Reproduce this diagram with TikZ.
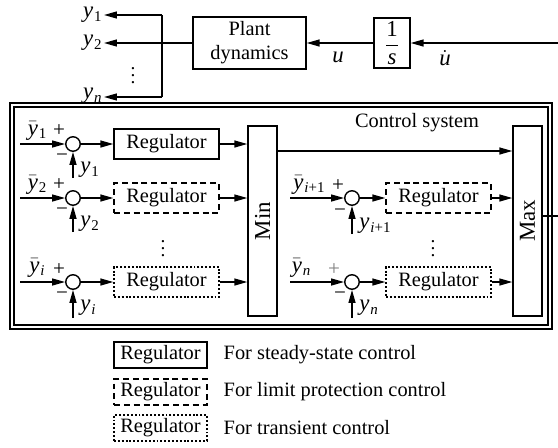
\documentclass[tikz,border=0pt]{standalone}
\usepackage{fontspec}
\setmainfont{Liberation Serif}
\usepackage{graphicx}
\usetikzlibrary{arrows.meta}
\newcommand{\vy}[1]{\textit{y}\kern0.5pt\raisebox{-0.35ex}{\fontsize{8.5}{9}\selectfont #1}}
\newcommand{\vyb}[1]{$\bar{\mbox{\textit{y}}}$\kern0.5pt\raisebox{-0.35ex}{\fontsize{8.5}{9}\selectfont #1}}
\newcommand{\ssi}{\textit{i}}
\newcommand{\ssn}{\textit{n}}
\begin{document}
\begin{tikzpicture}[x=0.02cm,y=-0.02cm,
  font=\fontsize{11.6}{13.8}\selectfont, line width=0.8pt,
  arr/.style={-{Triangle[length=2.6mm,width=1.4mm]}},
  blk/.style={draw, minimum width=2.1cm, minimum height=0.6cm, inner sep=0pt},
  regs/.style={blk},
  regd/.style={blk, dash pattern=on 3.4pt off 2.2pt},
  regt/.style={blk, dash pattern=on 1.1pt off 1.1pt},
  legs/.style={minimum width=1.86cm, minimum height=0.52cm},
  sumj/.style={draw, circle, minimum size=0.29cm, inner sep=0pt},
  lab/.style={inner sep=1pt, font=\fontsize{13}{14}\selectfont},
  sgn/.style={inner sep=0pt, font=\fontsize{12}{13}\selectfont},
  dts/.style={inner sep=0pt, font=\fontsize{11}{12}\selectfont},
  frm/.style={line width=0.6pt}]
\useasboundingbox (0,0) rectangle (558,447);

% ---------- top: plant ----------
\node[draw, minimum width=2.26cm, minimum height=1.04cm, align=center, inner sep=0pt] (plant) at (249.5,43) {Plant\\dynamics};
\node[draw, minimum width=0.72cm, minimum height=1.0cm, inner sep=0pt, font=\fontsize{13}{14}\selectfont] (integ) at (392,43) {$\displaystyle\frac{\mbox{1}}{\mbox{\textit{s}}}$};
\node[lab, anchor=east] (Y1) at (104,15) {\vy{1}};
\node[lab, anchor=east] (Y2) at (104,43) {\vy{2}};
\node[lab, anchor=east] (Yn) at (104,96) {\vy{\ssn}};
\node[dts] (tdots) at (133,70) {$\vdots$};
\coordinate (jt) at (162,15);
\coordinate (jm) at (162,43);
\coordinate (jb) at (162,97);
\draw (jt) -- (jb);
\draw[arr] (jt) -- (Y1.east |- jt);
\draw[arr] (plant.west) -- (Y2.east |- jm);
\draw[arr] (jb) -- (Yn.east |- jb);
\draw[arr] (integ.west) -- (plant.east);
\node[lab] (ulab) at (338,57) {\textit{u}};
\coordinate (fbR) at (558,43);
\draw[arr] (fbR) -- (integ.east);
\node[lab] (udlab) at (445,58) {$\dot{\mbox{\textit{u}}}$};

% ---------- control system frame ----------
\draw[frm] (10,103) rectangle (552,329);
\draw[frm] (14,107) rectangle (548,325);
\node (cslab) at (417,123) {Control system};

% Min / Max
\node[draw, minimum width=0.58cm, minimum height=3.8cm, inner sep=0pt, font=\fontsize{13}{14}\selectfont] (min) at (262.5,221) {\rotatebox{90}{Min}};
\node[draw, minimum width=0.58cm, minimum height=3.8cm, inner sep=0pt, font=\fontsize{13}{14}\selectfont] (max) at (527.5,221) {\rotatebox{90}{Max}};
\coordinate (mm) at (0,151);
\draw[arr] (min.east |- mm) -- (max.west |- mm);
\coordinate (maxOut) at (558,216);
\draw (max.east |- maxOut) -- (maxOut);

% ---------- left rows ----------
% row 1
\coordinate (in1) at (20,144);
\node[sumj] (s1) at (73,144) {};
\node[regs] (r1) at (166.5,144) {Regulator};
\coordinate (fb1) at (73,178);
\draw[arr] (in1) -- (s1.west);
\draw[arr] (s1.east) -- (r1.west);
\draw[arr] (r1.east) -- (r1.east -| min.west);
\draw[arr] (fb1) -- (s1.south);
\node[lab] (yb1) at (37,131) {\vyb{1}};
\node[sgn] (p1) at (59,131) {+};
\node[sgn] (m1) at (62,158) {−};
\node[lab, anchor=west] (yf1) at (78,170) {\vy{1}};

% row 2
\coordinate (in2) at (20,198);
\node[sumj] (s2) at (73,198) {};
\node[regd] (r2) at (166.5,198) {Regulator};
\coordinate (fb2) at (73,232);
\draw[arr] (in2) -- (s2.west);
\draw[arr] (s2.east) -- (r2.west);
\draw[arr] (r2.east) -- (r2.east -| min.west);
\draw[arr] (fb2) -- (s2.south);
\node[lab] (yb2) at (37,185) {\vyb{2}};
\node[sgn] (p2) at (59,185) {+};
\node[sgn] (m2) at (62,212) {−};
\node[lab, anchor=west] (yf2) at (78,224) {\vy{2}};

\node[dts] (ldots) at (163,243) {$\vdots$};

% row i
\coordinate (ini) at (20,282);
\node[sumj] (si) at (73,282) {};
\node[regt] (ri) at (166.5,282) {Regulator};
\coordinate (fbi) at (73,318);
\draw[arr] (ini) -- (si.west);
\draw[arr] (si.east) -- (ri.west);
\draw[arr] (ri.east) -- (ri.east -| min.west);
\draw[arr] (fbi) -- (si.south);
\node[lab] (ybi) at (37,268) {\vyb{\ssi}};
\node[sgn] (pi) at (59,270) {+};
\node[sgn] (mi) at (62,296) {−};
\node[lab, anchor=west] (yfi) at (78,308) {\vy{\ssi}};

% ---------- right rows ----------
% row i+1
\coordinate (inj) at (290,198);
\node[sumj] (sj) at (352,198) {};
\node[regd] (rj) at (438.5,198) {Regulator};
\coordinate (fbj) at (352,234);
\draw[arr] (inj) -- (sj.west);
\draw[arr] (sj.east) -- (rj.west);
\draw[arr] (rj.east) -- (rj.east -| max.west);
\draw[arr] (fbj) -- (sj.south);
\node[lab] (ybj) at (309,185) {\vyb{\ssi+1}};
\node[sgn] (pj) at (338,186) {+};
\node[sgn] (mj) at (340,213) {−};
\node[lab, anchor=west] (yfj) at (357,226) {\vy{\ssi+1}};

\node[dts] (rdots) at (433,243) {$\vdots$};

% row n
\coordinate (inn) at (290,282);
\node[sumj] (sn) at (352,282) {};
\node[regt] (rn) at (438.5,282) {Regulator};
\coordinate (fbn) at (352,318);
\draw[arr] (inn) -- (sn.west);
\draw[arr] (sn.east) -- (rn.west);
\draw[arr] (rn.east) -- (rn.east -| max.west);
\draw[arr] (fbn) -- (sn.south);
\node[lab] (ybn) at (301,268) {\vyb{\ssn}};
\node[sgn, text=black!50] (pn) at (334,270) {+};
\node[sgn] (mn) at (340,296) {−};
\node[lab, anchor=west] (yfn) at (357,308) {\vy{\ssn}};

% ---------- legend ----------
\node[regs, legs] (l1) at (160.5,355) {Regulator};
\node[regd, legs] (l2) at (160.5,392) {Regulator};
\node[regt, legs] (l3) at (160.5,428) {Regulator};
\node[anchor=west, inner sep=0pt] (t1) at (223,355) {For steady-state control};
\node[anchor=west, inner sep=0pt] (t2) at (223,392) {For limit protection control};
\node[anchor=west, inner sep=0pt] (t3) at (223,428) {For transient control};
\end{tikzpicture}
\end{document}
